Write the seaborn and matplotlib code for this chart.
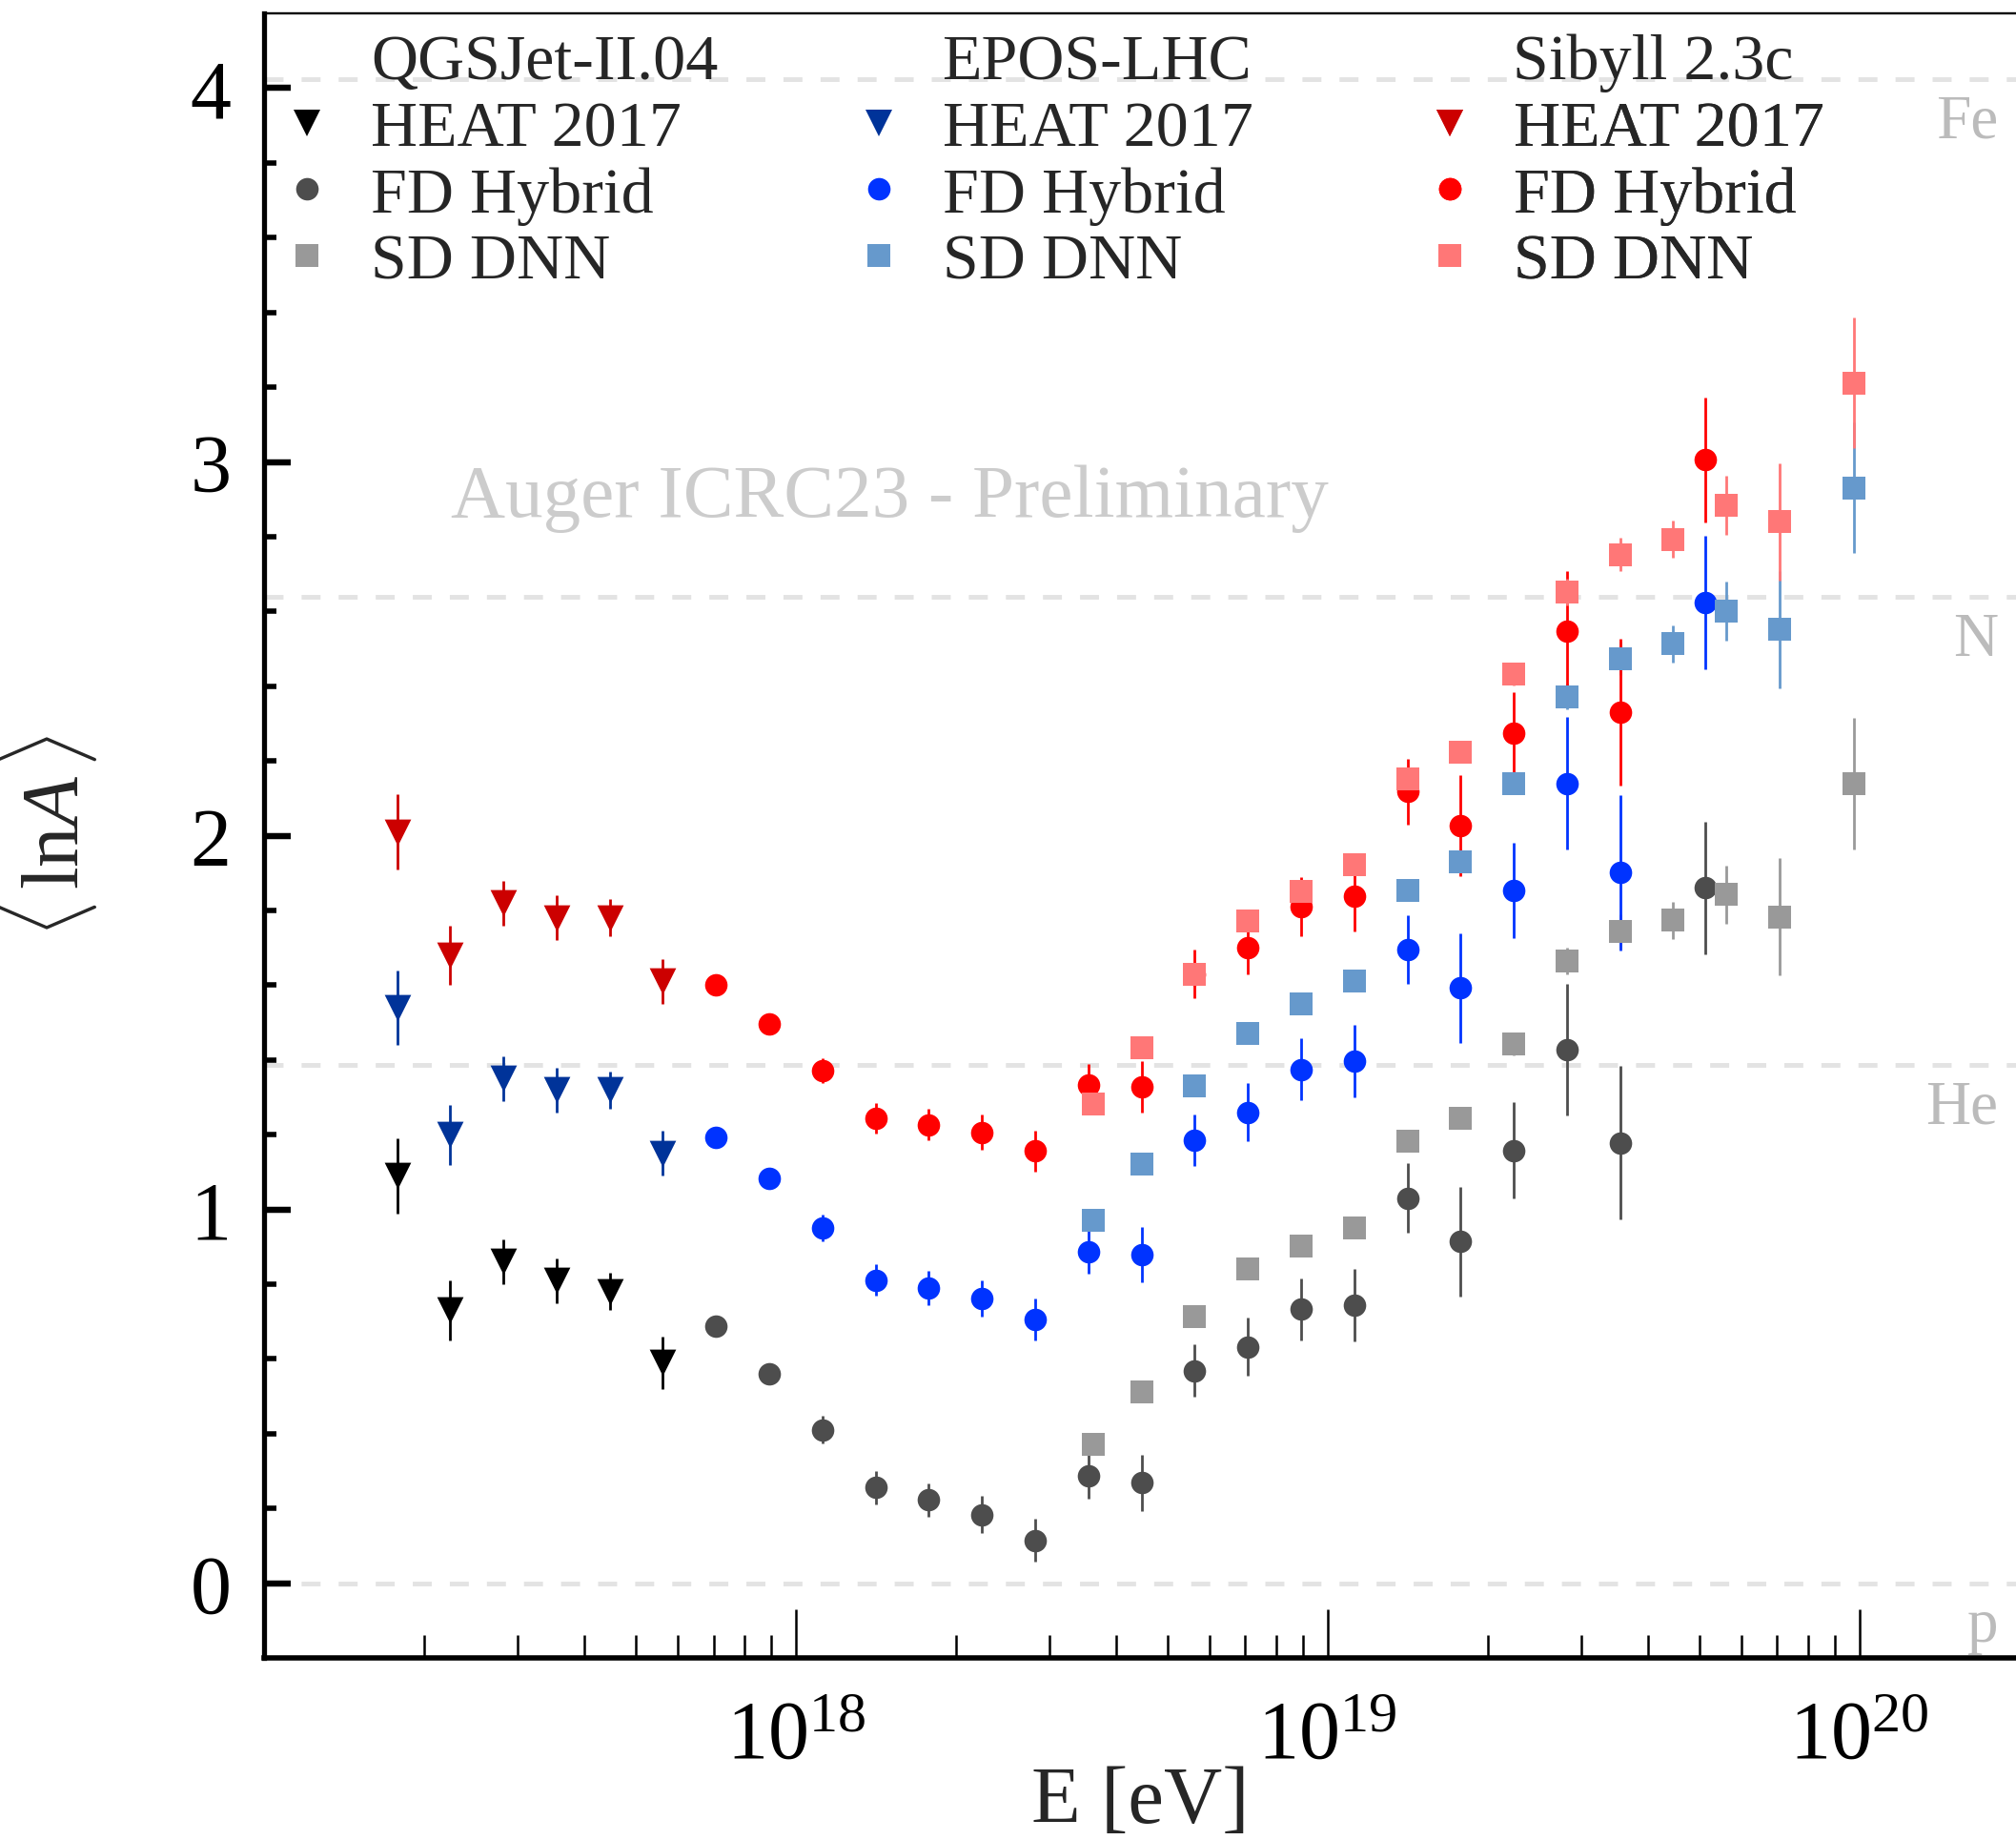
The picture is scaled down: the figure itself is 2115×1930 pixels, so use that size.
import numpy as np
import pandas as pd
import matplotlib
matplotlib.use('Agg')
import matplotlib.pyplot as plt
import matplotlib.lines as mlines
from matplotlib.lines import Line2D
from matplotlib.ticker import FixedLocator, LogLocator, NullFormatter, FixedFormatter
import seaborn as sns

# energy bins (log10 E/eV)
lgE_heat = [17.25, 17.35, 17.45, 17.55, 17.65, 17.75]
lgE_fd = [17.85, 17.95, 18.05, 18.15, 18.25, 18.35, 18.45, 18.55, 18.65, 18.75,
          18.85, 18.95, 19.05, 19.15, 19.25, 19.35, 19.45, 19.55, 19.71]
lgE_sd = [18.56, 18.65, 18.75, 18.85, 18.95, 19.05, 19.15, 19.25, 19.35, 19.45,
          19.55, 19.65, 19.75, 19.85, 19.99]

# QGSJet-II.04
heat_qgs = [1.09, 0.73, 0.86, 0.81, 0.78, 0.59]
heat_qgs_err = [0.10, 0.08, 0.06, 0.06, 0.05, 0.07]
fd_qgs = [0.688, 0.561, 0.410, 0.256, 0.223, 0.183, 0.115, 0.287, 0.269, 0.569,
          0.632, 0.733, 0.744, 1.030, 0.914, 1.158, 1.428, 1.178, 1.860]
fd_qgs_err = [0.02, 0.02, 0.037, 0.044, 0.045, 0.05, 0.058, 0.06, 0.075, 0.069,
              0.078, 0.083, 0.098, 0.093, 0.146, 0.128, 0.176, 0.205, 0.177]
sd_qgs = [0.371, 0.512, 0.712, 0.842, 0.901, 0.951, 1.183, 1.244, 1.442, 1.665,
          1.744, 1.774, 1.842, 1.783, 2.139]

# EPOS-LHC
heat_epos = [1.54, 1.20, 1.35, 1.32, 1.32, 1.15]
heat_epos_err = [0.10, 0.08, 0.06, 0.06, 0.05, 0.06]
fd_epos = [1.194, 1.083, 0.950, 0.811, 0.790, 0.761, 0.705, 0.886, 0.878, 1.185,
           1.260, 1.374, 1.396, 1.695, 1.592, 1.853, 2.140, 1.901, 2.624]
fd_epos_err = [0.02, 0.02, 0.035, 0.042, 0.045, 0.048, 0.056, 0.059, 0.074, 0.068,
               0.077, 0.083, 0.097, 0.092, 0.146, 0.128, 0.178, 0.207, 0.178]
sd_epos = [0.971, 1.121, 1.331, 1.472, 1.551, 1.610, 1.853, 1.931, 2.140, 2.372,
           2.474, 2.513, 2.601, 2.552, 2.931]

# Sibyll 2.3c
heat_sib = [2.01, 1.68, 1.82, 1.78, 1.78, 1.61]
heat_sib_err = [0.10, 0.08, 0.06, 0.06, 0.05, 0.06]
fd_sib = [1.600, 1.497, 1.372, 1.244, 1.227, 1.206, 1.156, 1.332, 1.328, 1.630,
          1.701, 1.810, 1.838, 2.118, 2.027, 2.274, 2.547, 2.330, 3.006]
fd_sib_err = [0.02, 0.02, 0.033, 0.041, 0.042, 0.047, 0.054, 0.057, 0.070, 0.066,
              0.073, 0.080, 0.093, 0.088, 0.135, 0.11, 0.16, 0.196, 0.167]
sd_sib = [1.283, 1.433, 1.628, 1.772, 1.851, 1.922, 2.152, 2.223, 2.433, 2.652,
          2.752, 2.793, 2.884, 2.840, 3.211]

sd_err = [0.01, 0.01, 0.01, 0.01, 0.01, 0.015, 0.02, 0.02, 0.03, 0.035,
          0.045, 0.05, 0.078, 0.157, 0.175]

models = ['QGSJet-II.04', 'EPOS-LHC', 'Sibyll 2.3c']
datasets = ['HEAT 2017', 'FD Hybrid', 'SD DNN']
colours = {
    'QGSJet-II.04': ['#000000', '#4d4d4d', '#999999'],
    'EPOS-LHC': ['#003399', '#0033ff', '#6699cc'],
    'Sibyll 2.3c': ['#cc0000', '#ff0000', '#ff7777'],
}
markers = {'HEAT 2017': 'v', 'FD Hybrid': 'o', 'SD DNN': 's'}
msize = {'HEAT 2017': 20, 'FD Hybrid': 17, 'SD DNN': 17}

elements = ['Fe', 'N', 'He', 'p']
element_lnA = [np.log(56), np.log(14), np.log(4), 0.0]

y_major = [0, 1, 2, 3, 4]
y_major_labels = ['0', '1', '2', '3', '4']
y_minor = [0.2, 0.4, 0.6, 0.8, 1.2, 1.4, 1.6, 1.8, 2.2, 2.4, 2.6, 2.8,
           3.2, 3.4, 3.6, 3.8]

values = {
    'QGSJet-II.04': [(heat_qgs, heat_qgs_err), (fd_qgs, fd_qgs_err), (sd_qgs, sd_err)],
    'EPOS-LHC': [(heat_epos, heat_epos_err), (fd_epos, fd_epos_err), (sd_epos, sd_err)],
    'Sibyll 2.3c': [(heat_sib, heat_sib_err), (fd_sib, fd_sib_err), (sd_sib, sd_err)],
}
energies = [lgE_heat, lgE_fd, lgE_sd]

rows = []
for m in models:
    for ds, lg, (v, e) in zip(datasets, energies, values[m]):
        for a, b, c in zip(lg, v, e):
            rows.append({'model': m, 'dataset': ds, 'E': 10 ** a, 'lnA': b, 'err': c})
df = pd.DataFrame(rows)

sns.set_theme(style='ticks')
plt.rcParams['font.family'] = ['Liberation Serif', 'DejaVu Serif']
plt.rcParams['mathtext.fontset'] = 'custom'
plt.rcParams['mathtext.rm'] = 'Liberation Serif'
plt.rcParams['mathtext.it'] = 'Liberation Serif:italic'
plt.rcParams.update({
    'axes.axisbelow': False,
    'xtick.direction': 'in', 'ytick.direction': 'in',
    'xtick.color': 'black', 'ytick.color': 'black',
    'xtick.major.size': 37, 'xtick.minor.size': 17,
    'xtick.major.width': 1.8, 'xtick.minor.width': 1.8,
    'ytick.major.size': 20, 'ytick.minor.size': 9,
    'ytick.major.width': 4.5, 'ytick.minor.width': 4.0,
    'xtick.top': False, 'ytick.right': False,
    'xtick.bottom': True, 'ytick.left': True,
})

fig = plt.figure(figsize=(21.15, 19.31), dpi=100)
ax = fig.add_axes([0.131, 0.0989, 0.869, 0.8933])

# reference lines for pure compositions
for el, y in zip(elements, element_lnA):
    ax.axhline(y, color='#e3e3e3', lw=3.5, ls=(0, (4.1, 3.9)), zorder=1)
    ax.text(0.99, y - 0.155, el, transform=ax.get_yaxis_transform(), ha='right',
            va='baseline', fontsize=47, color='#bbbbbb')

ax.text(0.1066, 0.6945, 'Auger ICRC23 - Preliminary', transform=ax.transAxes,
        ha='left', va='baseline', fontsize=57, color='#cccccc')

for m in models:
    for k, ds in enumerate(datasets):
        sub = df[(df.model == m) & (df.dataset == ds)]
        ax.errorbar(sub.E, sub.lnA, yerr=sub.err, fmt='none', ecolor=colours[m][k],
                    elinewidth=2.0, capsize=0, zorder=2)
for k, ds in enumerate(datasets):
    for m in models:
        sub = df[(df.model == m) & (df.dataset == ds)]
        sns.scatterplot(data=sub, x='E', y='lnA', marker=markers[ds], color=colours[m][k],
                        s=msize[ds] ** 2, linewidth=0, ax=ax, zorder=3 + k)

ax.set_xscale('log')
ax.set_xlim(1e17, 1.97e20)
ax.set_ylim(-0.2, 4.2)
ax.xaxis.set_major_locator(FixedLocator([1e18, 1e19, 1e20]))
ax.xaxis.set_minor_locator(LogLocator(base=10, subs=np.arange(2, 10)))
ax.xaxis.set_minor_formatter(NullFormatter())
ax.yaxis.set_major_locator(FixedLocator(y_major))
ax.yaxis.set_major_formatter(FixedFormatter(y_major_labels))
ax.yaxis.set_minor_locator(FixedLocator(y_minor))

ax.tick_params(axis='y', which='major', direction='in', length=20, width=4.5,
               labelsize=62, pad=25, left=True, right=False, color='black')
ax.tick_params(axis='y', which='minor', direction='in', length=9, width=4.0,
               left=True, right=False, color='black')
ax.tick_params(axis='x', which='major', direction='in', length=37, width=1.8,
               labelsize=62, pad=32, bottom=True, top=False, color='black')
ax.tick_params(axis='x', which='minor', direction='in', length=17, width=1.8,
               bottom=True, top=False, color='black')

# long inward marks at the integer lnA values, on top of everything
ax.plot(np.zeros(len(y_major)), y_major, transform=ax.get_yaxis_transform(),
        linestyle='none', marker=mlines.TICKRIGHT, markersize=20, markeredgewidth=4.5,
        color='black', clip_on=False, zorder=10)

ax.spines['left'].set_linewidth(3.8)
ax.spines['bottom'].set_linewidth(4.0)
ax.spines['top'].set_linewidth(1.7)
ax.spines['right'].set_visible(False)
for s in ax.spines.values():
    s.set_color('black')

ax.set_xlabel('E [eV]', fontsize=61)
ax.set_ylabel(r'$\langle\,\mathrm{ln}A\,\rangle$', fontsize=61)
ax.xaxis.set_label_coords(0.5, -0.0655)
ax.yaxis.set_label_coords(-0.094, 0.5)

# one legend block per hadronic model, model name written above it
x_anchor = [0.1362, 0.4199, 0.7031]
x_title = [0.1839, 0.4671, 0.7504]
for i, m in enumerate(models):
    fig.text(x_title[i], 0.957, m, ha='left', va='baseline', fontsize=49)
    handles = []
    for k, ds in enumerate(datasets):
        handles.append(Line2D([], [], linestyle='none', marker=markers[ds],
                              color=colours[m][k], markersize=msize[ds], markeredgewidth=0))
    leg = ax.legend(handles, datasets, loc='upper left',
                    bbox_to_anchor=(x_anchor[i], 0.945), bbox_transform=fig.transFigure,
                    frameon=False, fontsize=49, handlelength=1.0, handletextpad=0.485,
                    borderpad=0, borderaxespad=0, labelspacing=0.114)
    ax.add_artist(leg)

fig.savefig('out.png', dpi=100)
